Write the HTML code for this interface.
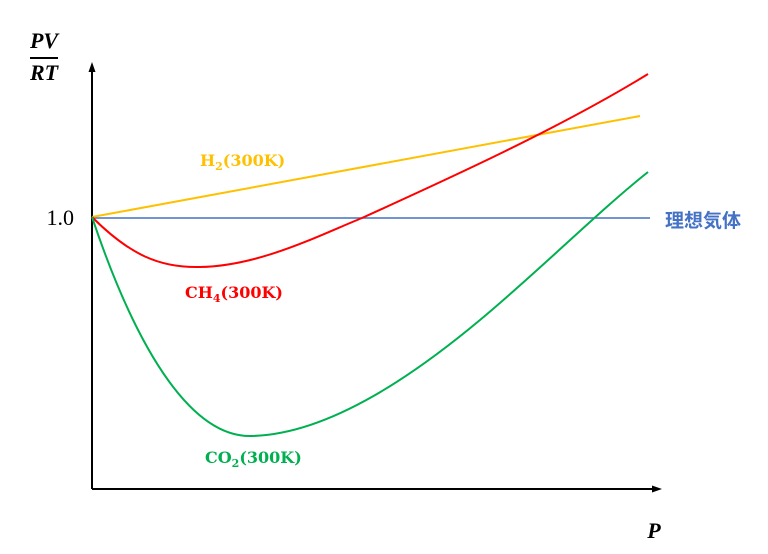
<!DOCTYPE html>
<html><head><meta charset="utf-8"><style>
html,body{margin:0;padding:0;background:#fff;}
svg{display:block}
</style></head><body>
<svg width="768" height="554" viewBox="0 0 768 554" xmlns="http://www.w3.org/2000/svg">
<defs>
<marker id="ar" markerUnits="userSpaceOnUse" markerWidth="12" markerHeight="10" refX="2" refY="5" orient="auto">
<path d="M0,1.5 L10,5 L0,8.5 z" fill="#000"/>
</marker>
</defs>
<!-- axes -->
<line x1="92" y1="489" x2="92" y2="70" stroke="#000" stroke-width="2" marker-end="url(#ar)"/>
<line x1="92" y1="489" x2="654" y2="489" stroke="#000" stroke-width="2" marker-end="url(#ar)"/>
<!-- ideal gas -->
<line x1="92" y1="218" x2="650" y2="218" stroke="#4472C4" stroke-width="1.6"/>
<!-- H2 -->
<line x1="92" y1="217" x2="640" y2="116" stroke="#FFC000" stroke-width="2"/>
<!-- CH4 -->
<path d="M92,217 C130,255 160,268 200,267 C260,266 320,235 362,218 C450,178 560,128 648,74" fill="none" stroke="#FF0000" stroke-width="2"/>
<!-- CO2 -->
<path d="M92,217 C140,360 195,438 252,436 C332,434 420,370 480,320 C540,270 600,210 648,172" fill="none" stroke="#00B050" stroke-width="2"/>
<!-- labels -->
<g font-family="Liberation Serif, serif" font-weight="bold" font-style="italic" font-size="22" fill="#000">
<text x="44" y="48" text-anchor="middle">PV</text>
<line x1="30" y1="58" x2="58" y2="58" stroke="#000" stroke-width="2"/>
<text x="44" y="80" text-anchor="middle">RT</text>
<text x="654" y="538" text-anchor="middle">P</text>
</g>
<text x="74" y="225" text-anchor="end" font-family="Liberation Serif, serif" font-size="22" fill="#000">1.0</text>
<g font-family="DejaVu Serif, serif" font-weight="bold" font-size="16">
<text x="200" y="166" fill="#FFC000">H<tspan font-size="11" dy="4">2</tspan><tspan dy="-4">(300K)</tspan></text>
<text x="185" y="298" fill="#FF0000">CH<tspan font-size="11" dy="4">4</tspan><tspan dy="-4">(300K)</tspan></text>
<text x="205" y="463" fill="#00B050">CO<tspan font-size="11" dy="4">2</tspan><tspan dy="-4">(300K)</tspan></text>
</g>
<text x="665" y="227" font-family="Liberation Sans, 'Noto Sans CJK JP', sans-serif" font-weight="bold" font-size="19" fill="#4472C4">理想気体</text>
</svg>
</body></html>
